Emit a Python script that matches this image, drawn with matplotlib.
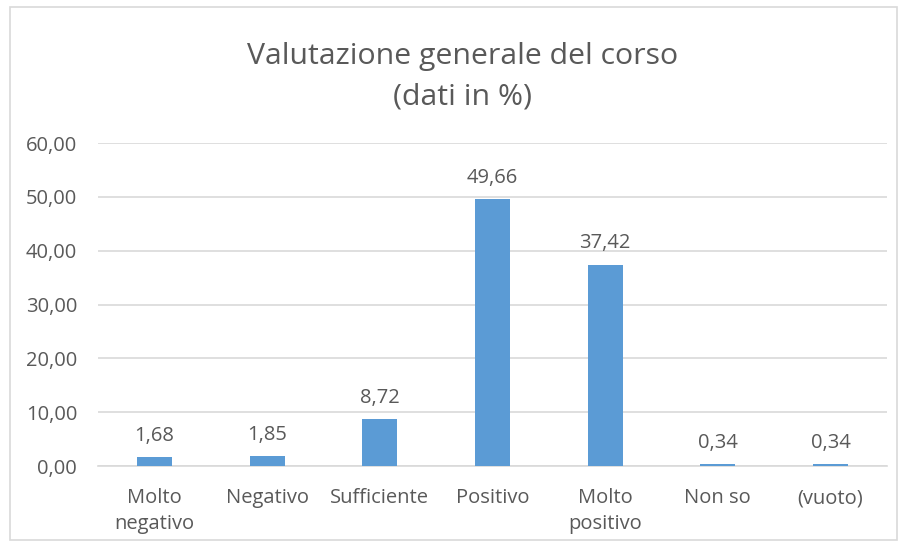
import matplotlib.pyplot as plt
from matplotlib.patches import Rectangle

plt.rcParams['font.family'] = ['Open Sans', 'DejaVu Sans']

categorie = ['Molto\nnegativo', 'Negativo', 'Sufficiente', 'Positivo', 'Molto\npositivo', 'Non so', '(vuoto)']
valori = [1.68, 1.85, 8.72, 49.66, 37.42, 0.34, 0.34]
etichette_y = ['0,00', '10,00', '20,00', '30,00', '40,00', '50,00', '60,00']

testo = '#595959'
blu = '#5B9BD5'
griglia = '#D9D9D9'

fig = plt.figure(figsize=(9.05, 5.48), dpi=100)
ax = fig.add_axes([0.1083, 0.1496, 0.8717, 0.5894])

x = list(range(len(categorie)))
ax.bar(x, valori, width=0.31, color=blu, zorder=3)
ax.set_xlim(-0.5, len(categorie) - 0.5)
ax.set_ylim(0, 60)

ax.set_yticks(range(0, 61, 10))
ax.set_yticklabels(etichette_y)
ax.set_xticks(x)
ax.set_xticklabels(categorie, linespacing=1.4)
ax.tick_params(axis='both', length=0, colors=testo, labelsize=14.5)
ax.tick_params(axis='y', pad=15)
ax.tick_params(axis='x', pad=16)

ax.grid(axis='y', color=griglia, linewidth=1.2, zorder=0)
for s in ['top', 'right', 'left']:
    ax.spines[s].set_visible(False)
ax.spines['bottom'].set_color(griglia)
ax.spines['bottom'].set_linewidth(1.2)

# etichette dei valori
for xi, v in zip(x, valori):
    ax.annotate(f'{v:.2f}'.replace('.', ','), (xi, v), xytext=(0, 8),
                textcoords='offset points', ha='center', va='bottom',
                color=testo, fontsize=14.5)

fig.text(0.511, 0.860, 'Valutazione generale del corso\n(dati in %)',
         ha='center', va='center', color=testo, fontsize=21.8, linespacing=1.55)

# bordo del grafico
fig.patches.append(Rectangle((10 / 905, 8 / 548), 887 / 905, 533 / 548,
                             transform=fig.transFigure, fill=False,
                             edgecolor=griglia, linewidth=1.2))

fig.savefig('out.png', dpi=100)
